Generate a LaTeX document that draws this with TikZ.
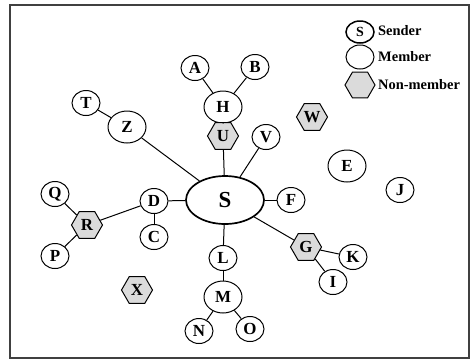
\documentclass[tikz,border=0pt]{standalone}
\usepackage{fontspec}
\setmainfont{Liberation Serif}[BoldFont={Liberation Serif Bold}]
\usetikzlibrary{shapes.geometric}
\begin{document}
\begin{tikzpicture}[x=1bp,y=-1bp,
  every node/.style={font=\fontsize{17}{17}\selectfont\bfseries, inner sep=0pt},
  member/.style={ellipse, draw, line width=1pt, fill=white, minimum width=28bp, minimum height=25bp},
  bigmember/.style={member, minimum width=38bp, minimum height=32bp},
  nonmember/.style={regular polygon, regular polygon sides=6, draw, line width=1pt, fill=black!14, minimum size=31bp},
  sender/.style={ellipse, draw, line width=1.7pt, fill=white, minimum width=78bp, minimum height=48bp, font=\fontsize{23}{23}\selectfont\bfseries},
  link/.style={line width=1pt},
  legendtext/.style={anchor=west, font=\fontsize{14.5}{14.5}\selectfont\bfseries}]
\useasboundingbox (0,0) rectangle (473,360);
\draw[line width=1.6pt, black!75] (10,5) rectangle (469,358);

% legend
\node[ellipse, draw, line width=1.5pt, minimum width=28bp, minimum height=22bp, font=\fontsize{14}{14}\selectfont\bfseries] (lgS) at (360,32) {S};
\node[legendtext] (lgSt) at (378,31) {Sender};
\node[member, minimum height=24bp] (lgM) at (360,57) {};
\node[legendtext] (lgMt) at (378,57) {Member};
\node[nonmember, minimum size=30bp] (lgN) at (360,85) {};
\node[legendtext] (lgNt) at (378,85) {Non-member};

% nodes
\node[sender] (S) at (225,200) {S};
\node[member] (A) at (195,68) {A};
\node[member] (B) at (255,67) {B};
\node[bigmember] (H) at (223,107) {H};
\node[nonmember] (U) at (223,136) {U};
\node[member] (T) at (86,103) {T};
\node[bigmember] (Z) at (127,127) {Z};
\node[member] (V) at (266,137) {V};
\node[nonmember] (W) at (312,117) {W};
\node[bigmember] (E) at (347,166) {E};
\node[member] (J) at (400,190) {J};
\node[member] (F) at (291,200) {F};
\node[member] (D) at (154,201) {D};
\node[member] (C) at (154,237) {C};
\node[nonmember] (R) at (87,225) {R};
\node[member] (Q) at (55,194) {Q};
\node[member] (P) at (55,256) {P};
\node[member] (L) at (223,258) {L};
\node[bigmember] (M) at (223,297) {M};
\node[member] (N) at (199,331) {N};
\node[member] (O) at (250,329) {O};
\node[nonmember] (X) at (137,290) {X};
\node[nonmember] (G) at (306,247) {G};
\node[member] (K) at (353,257) {K};
\node[member] (I) at (333,282) {I};

% links
\draw[link] (A) -- (H);
\draw[link] (B) -- (H);
\draw[link] (H) -- (U);
\draw[link] (U) -- (S);
\draw[link] (T) -- (Z);
\draw[link] (Z) -- (S);
\draw[link] (V) -- (S);
\draw[link] (F) -- (S);
\draw[link] (D) -- (S);
\draw[link] (D) -- (C);
\draw[link] (D) -- (R);
\draw[link] (R) -- (Q);
\draw[link] (R) -- (P);
\draw[link] (S) -- (L);
\draw[link] (L) -- (M);
\draw[link] (M) -- (N);
\draw[link] (M) -- (O);
\draw[link] (S) -- (G);
\draw[link] (G) -- (K);
\draw[link] (G) -- (I);
\end{tikzpicture}
\end{document}
